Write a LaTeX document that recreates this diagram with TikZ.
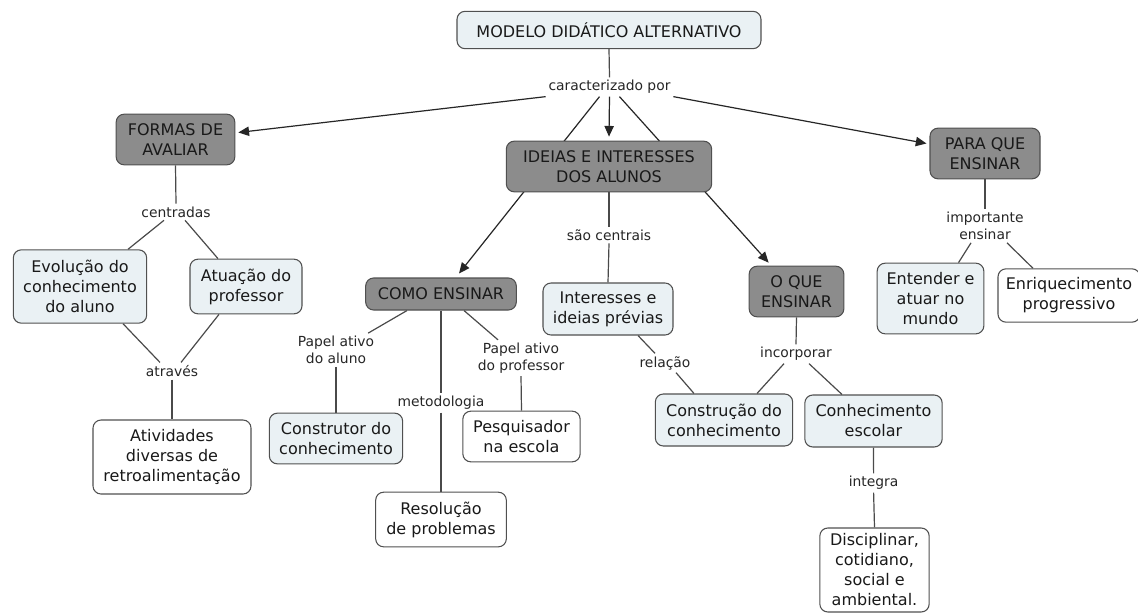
\documentclass[tikz,border=0pt]{standalone}
\usepackage{fontspec}
\setmainfont{DejaVu Sans}
\usetikzlibrary{arrows.meta,calc,backgrounds}
\definecolor{darkbox}{HTML}{8C8C8C}
\definecolor{lightbox}{HTML}{EAF1F4}
\definecolor{edgecol}{HTML}{4A4A4A}
\definecolor{bordercol}{HTML}{505050}
\begin{document}
\begin{tikzpicture}[x=0.75pt,y=-0.75pt,
  box/.style={draw=bordercol, line width=0.8pt, rounded corners=6pt, align=center,
    font=\fontsize{12}{15}\selectfont, inner sep=2pt, text=black!90},
  darkb/.style={box, fill=darkbox},
  lightb/.style={box, fill=lightbox},
  plainb/.style={box, fill=white},
  lab/.style={font=\fontsize{10.4}{12.8}\selectfont, align=center, inner sep=2pt, text=black!85},
  link/.style={draw=edgecol, line width=0.9pt},
  arr/.style={draw=black!85, line width=0.9pt, -{Triangle[length=8pt,width=7pt]}},
]
\useasboundingbox (0,0) rectangle (1138,614);

% nodes
\node[lightb, minimum width=228pt, minimum height=28pt] (modelo) at (609,30) {MODELO DIDÁTICO ALTERNATIVO};
\node[lab] (carac) at (609.5,87) {caracterizado por};
\node[darkb, minimum width=89pt, minimum height=38pt] (formas) at (175.5,139.5) {FORMAS DE\\AVALIAR};
\node[darkb, minimum width=154pt, minimum height=38pt] (ideias) at (609,166.5) {IDEIAS E INTERESSES\\DOS ALUNOS};
\node[darkb, minimum width=82.5pt, minimum height=38pt] (para) at (985,153.5) {PARA QUE\\ENSINAR};
\node[lab] (centradas) at (176,212) {centradas};
\node[lightb, minimum width=100pt, minimum height=55pt] (evol) at (80,286.5) {Evolução do\\conhecimento\\do aluno};
\node[lightb, minimum width=84pt, minimum height=41pt] (atua) at (246,286.5) {Atuação do\\professor};
\node[darkb, minimum width=113pt, minimum height=24pt] (como) at (441,294) {COMO ENSINAR};
\node[lab] (saoc) at (609,235) {são centrais};
\node[lightb, minimum width=97.5pt, minimum height=39pt] (inter) at (608,309) {Interesses e\\ideias prévias};
\node[darkb, minimum width=71pt, minimum height=38pt] (oque) at (796.5,291.5) {O QUE\\ENSINAR};
\node[lab] (importante) at (985,226) {importante\\ensinar};
\node[lightb, minimum width=80pt, minimum height=53pt] (entender) at (930.5,298.5) {Entender e\\atuar no\\mundo};
\node[plainb, minimum width=106.5pt, minimum height=40pt] (enriq) at (1069,295.5) {Enriquecimento\\progressivo};
\node[lab] (atraves) at (172,371) {através};
\node[plainb, minimum width=118.5pt, minimum height=55.5pt] (ativ) at (172,457) {Atividades\\diversas de\\retroalimentação};
\node[lab] (paluno) at (336,350) {Papel ativo\\do aluno};
\node[lightb, minimum width=100pt, minimum height=38pt] (constr) at (336,438.5) {Construtor do\\conhecimento};
\node[lab] (metod) at (441,403) {metodologia};
\node[plainb, minimum width=98pt, minimum height=41pt] (resol) at (441,519.5) {Resolução\\de problemas};
\node[lab] (pprof) at (521,358) {Papel ativo\\do professor};
\node[plainb, minimum width=88pt, minimum height=38pt] (pesq) at (521.5,436.5) {Pesquisador\\na escola};
\node[lab] (relacao) at (665,363) {relação};
\node[lab] (incorp) at (796,354) {incorporar};
\node[lightb, minimum width=103pt, minimum height=39pt] (constru) at (724,420) {Construção do\\conhecimento};
\node[lightb, minimum width=103pt, minimum height=39pt] (conhec) at (873.5,421) {Conhecimento\\escolar};
\node[lab] (integra) at (873.6,483) {integra};
\node[plainb, minimum width=82pt, minimum height=63pt] (disc) at (874.5,570) {Disciplinar,\\cotidiano,\\social e\\ambiental.};

% connectors
\begin{pgfonlayer}{background}
\fill[white] (0,0) rectangle (1138,614);
\draw[link] (modelo.south) -- (carac.north);
\draw[arr] (carac.south west) -- ($(formas.east)+(3,-7)$);
\draw[arr] (carac.south) -- ($(ideias.north)+(0,-4)$);
\draw[arr] ($(carac.south)+(-10,0)$) -- ($(como.north)+(18,-4)$);
\draw[arr] ($(carac.south)+(10,0)$) -- ($(oque.north west)+(20,-3)$);
\draw[arr] (carac.south east) -- ($(para.west)+(-3,-10)$);

\draw[link] (formas.south) -- (centradas.north);
\draw[link] ($(centradas.south)+(-12,0)$) -- ($(evol.north)+(48,0)$);
\draw[link] ($(centradas.south)+(9,0)$) -- ($(atua.north)+(-28,0)$);
\draw[link] ($(evol.south)+(43,0)$) -- ($(atraves.north)+(-12,0)$);
\draw[link] ($(atua.south)+(-27,0)$) -- ($(atraves.north)+(9,0)$);
\draw[link] (atraves.south) -- (ativ.north);

\draw[link] (ideias.south) -- (saoc.north);
\draw[link] (saoc.south) -- (inter.north);

\draw[link] ($(como.south)+(-34,0)$) -- ($(paluno.north east)+(-9,0)$);
\draw[link] (paluno.south) -- (constr.north);
\draw[link] (como.south) -- (metod.north);
\draw[link] (metod.south) -- (resol.north);
\draw[link] ($(como.south)+(23,0)$) -- ($(pprof.north)+(-23,0)$);
\draw[link] (pprof.south) -- (pesq.north);

\draw[link] ($(inter.south)+(30,0)$) -- ($(relacao.north)+(-10,0)$);
\draw[link] ($(relacao.south)+(11,0)$) -- ($(constru.north)+(-30,0)$);
\draw[link] (oque.south) -- (incorp.north);
\draw[link] ($(incorp.south)+(-12,0)$) -- ($(constru.north)+(33,0)$);
\draw[link] ($(incorp.south)+(13,0)$) -- ($(conhec.north)+(-31.5,0)$);
\draw[link] (conhec.south) -- (integra.north);
\draw[link] (integra.south) -- (disc.north);

\draw[link] (para.south) -- (importante.north);
\draw[link] ($(importante.south)+(-14,0)$) -- ($(entender.north)+(28,0)$);
\draw[link] ($(importante.south)+(22,0)$) -- ($(enriq.north)+(-36,0)$);
\end{pgfonlayer}
\end{tikzpicture}
\end{document}
